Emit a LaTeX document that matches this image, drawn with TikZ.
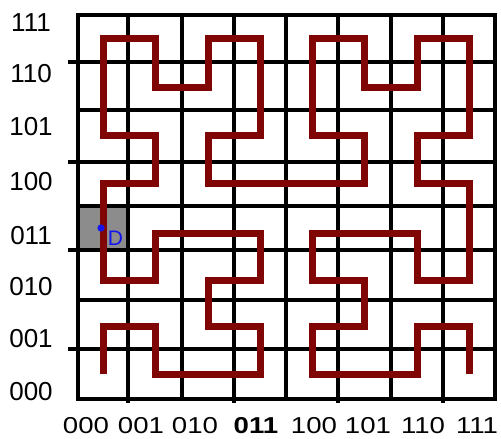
\documentclass[tikz,border=0pt]{standalone}
\usepackage{fontspec}
\setmainfont{Liberation Sans}
\definecolor{curvered}{RGB}{128,6,6}
\definecolor{cellgray}{RGB}{140,140,140}
\definecolor{dotblue}{RGB}{20,20,240}
\begin{document}
\begin{tikzpicture}[x=1pt,y=-1pt,
  gridline/.style={black,line width=3.6pt},
  hilbert/.style={curvered,line width=7pt,line join=miter,line cap=butt},
  leftlab/.style={inner sep=0pt,font=\fontsize{26}{26}\selectfont},
  botlab/.style={inner sep=0pt,font=\fontsize{23}{23}\selectfont}]
\useasboundingbox (0,0) rectangle (501,439);
\fill[white] (0,0) rectangle (501,439);
% shaded cell
\fill[cellgray] (78,208) rectangle (128,250);
% grid
\foreach \xx in {128,182,234,286,338,391,443}
  \draw[gridline] (\xx,15) -- (\xx,399);
\foreach \xx in {128,234,338,443}
  \draw[gridline] (\xx,398) -- (\xx,403);
\foreach \yy in {62,110,162,206,250,300,349}
  \draw[gridline] (78,\yy) -- (495,\yy);
\foreach \yy in {62,162,250,349}
  \draw[gridline] (68,\yy) -- (79,\yy);
\draw[gridline,line join=miter] (78,15) rectangle (495,399);
% curve points
\foreach \i/\xx in {0/103,1/155,2/208,3/260,4/312,5/364,6/417,7/469}
  \foreach \j/\yy in {0/374,1/326,2/280,3/233,4/183,5/135,6/87,7/38}
    \coordinate (p\i\j) at (\xx,\yy);
\draw[hilbert] (p00)--(p01)--(p11)--(p10)--(p20)--(p30)--(p31)--(p21)--(p22)--(p32)--(p33)--(p23)--(p13)--(p12)--(p02)--(p03)--(p04)--(p14)--(p15)--(p05)--(p06)--(p07)--(p17)--(p16)--(p26)--(p27)--(p37)--(p36)--(p35)--(p25)--(p24)--(p34)--(p44)--(p54)--(p55)--(p45)--(p46)--(p47)--(p57)--(p56)--(p66)--(p67)--(p77)--(p76)--(p75)--(p65)--(p64)--(p74)--(p73)--(p72)--(p62)--(p63)--(p53)--(p43)--(p42)--(p52)--(p51)--(p41)--(p40)--(p50)--(p60)--(p61)--(p71)--(p70);
% point D
\fill[dotblue] (101,228) circle (3.6);
\node[dotblue,inner sep=0pt,font=\fontsize{21}{21}\selectfont] (dlab) at (115.5,238.5) {D};
% left labels
\node[leftlab] (l7) at (31,23) {111};
\node[leftlab] (l6) at (31,74) {110};
\node[leftlab] (l5) at (31,127) {101};
\node[leftlab] (l4) at (31,182) {100};
\node[leftlab] (l3) at (31,236) {011};
\node[leftlab] (l2) at (31,287) {010};
\node[leftlab] (l1) at (31,339) {001};
\node[leftlab] (l0) at (31,392) {000};
% bottom labels
\node[botlab] (b0) at (86,426) {\scalebox{1.2}[1]{000}};
\node[botlab] (b1) at (141,426) {\scalebox{1.2}[1]{001}};
\node[botlab] (b2) at (195,426) {\scalebox{1.2}[1]{010}};
\node[botlab] (b3) at (256,426) {\scalebox{1.2}[1]{\bfseries 011}};
\node[botlab] (b4) at (314,426) {\scalebox{1.2}[1]{100}};
\node[botlab] (b5) at (368,426) {\scalebox{1.2}[1]{101}};
\node[botlab] (b6) at (423,426) {\scalebox{1.2}[1]{110}};
\node[botlab] (b7) at (477,426) {\scalebox{1.2}[1]{111}};
\end{tikzpicture}
\end{document}
